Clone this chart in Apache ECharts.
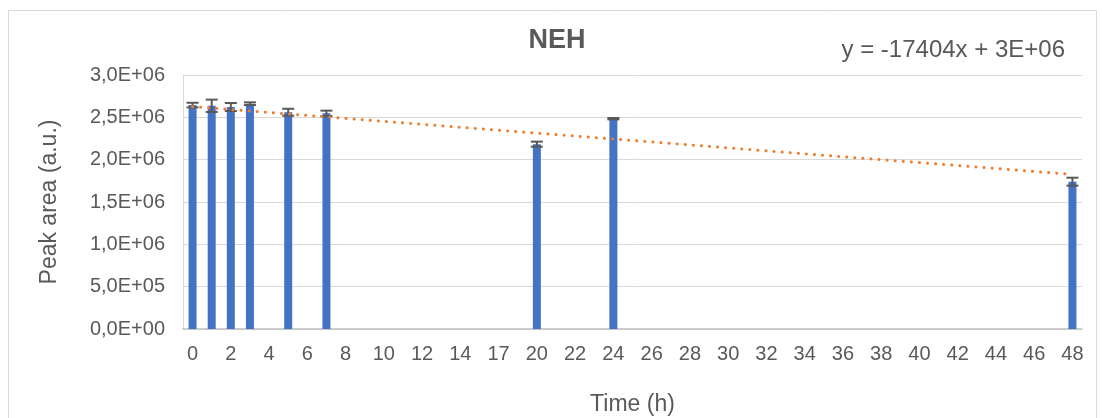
<!DOCTYPE html>
<html>
<head>
<meta charset="utf-8">
<script src="https://cdn.jsdelivr.net/npm/echarts@6/dist/echarts.min.js"></script>
<style>
  html, body { margin: 0; padding: 0; background: #fff; }
  #chart { width: 1102px; height: 418px; }
</style>
</head>
<body>
<div id="chart"></div>
<script>
// Category axis of sampling times (h)
const categories = ['0','1','2','3','4','5','6','7','8','9','10','11','12','13','14','16','17','19',
  '20','21','22','23','24','25','26','27','28','29','30','31','32','33','34','35','36','37','38','39',
  '40','41','42','43','44','45','46','47','48'];

// Measured times, mean peak areas and standard deviations
const sampleTimes = ['0','1','2','3','5','7','20','24','48'];
const peakAreas   = [2645000, 2636000, 2622000, 2661000, 2560000, 2547000, 2183000, 2484000, 1740000];
const peakErrors  = [27000, 73000, 47000, 16000, 41000, 32000, 30000, 8000, 47000];

// Linear trendline (x = 1-based category position)
const trendSlope = -17404;
const trendIntercept = 2644000;
const trendLabel = 'y = -17404x + 3E+06';

const yTickLabels = ['0,0E+00','5,0E+05','1,0E+06','1,5E+06','2,0E+06','2,5E+06','3,0E+06'];

const barData = categories.map(c => {
  const i = sampleTimes.indexOf(c);
  return i >= 0 ? peakAreas[i] : '-';
});
const errData = sampleTimes.map((t, i) => {
  const idx = categories.indexOf(t);
  return [idx, peakAreas[i] - peakErrors[i], peakAreas[i] + peakErrors[i]];
});
const firstIdx = categories.indexOf(sampleTimes[0]);
const lastIdx = categories.indexOf(sampleTimes[sampleTimes.length - 1]);
const trendData = [firstIdx, lastIdx].map(i => [i, trendSlope * (i + 1) + trendIntercept]);

const textColor = '#595959';
const font = 'Liberation Sans, Arial, sans-serif';

const chart = echarts.init(document.getElementById('chart'));
chart.setOption({
  animation: false,
  textStyle: { fontFamily: font },
  title: {
    text: 'NEH',
    left: 552,
    top: 22,
    textAlign: 'center',
    textStyle: { fontSize: 27, fontWeight: 'bold', color: textColor, fontFamily: font }
  },
  graphic: [
    {
      type: 'rect',
      shape: { x: 8.5, y: 10.5, width: 1088, height: 420 },
      style: { fill: 'none', stroke: '#D9D9D9', lineWidth: 1 },
      silent: true
    },
    {
      type: 'text',
      x: 1065, y: 50,
      style: {
        text: trendLabel, fontSize: 24, fontFamily: font, fill: textColor,
        align: 'right', verticalAlign: 'middle'
      }
    }
  ],
  grid: { left: 183, right: 20, top: 75, bottom: 89, containLabel: false, outerBoundsMode: 'none' },
  xAxis: {
    type: 'category',
    data: categories,
    name: 'Time (h)',
    nameLocation: 'middle',
    nameGap: 64,
    nameTextStyle: { fontSize: 23, color: textColor },
    axisLine: { lineStyle: { color: '#BFBFBF', width: 1.5 } },
    axisTick: { show: false },
    axisLabel: { interval: 1, fontSize: 20, color: textColor, margin: 15 },
    splitLine: { show: false }
  },
  yAxis: {
    type: 'value',
    min: 0, max: 3000000, interval: 500000,
    name: 'Peak area (a.u.)',
    nameLocation: 'middle',
    nameGap: 122,
    nameRotate: 90,
    nameTextStyle: { fontSize: 23, color: textColor },
    axisLine: { show: true, lineStyle: { color: '#D9D9D9', width: 1 } },
    axisTick: { show: false },
    axisLabel: {
      fontSize: 20, color: textColor, margin: 18,
      formatter: v => yTickLabels[Math.round(v / 500000)]
    },
    splitLine: { lineStyle: { color: '#D9D9D9', width: 1 } }
  },
  series: [
    {
      type: 'bar',
      data: barData,
      barWidth: 8,
      itemStyle: { color: '#4472C4' },
      z: 2
    },
    {
      type: 'custom',
      data: errData,
      z: 4,
      renderItem: (params, api) => {
        const x = api.value(0);
        const lo = api.coord([x, api.value(1)]);
        const hi = api.coord([x, api.value(2)]);
        const hw = 6;
        const style = { stroke: '#595959', lineWidth: 2 };
        return {
          type: 'group',
          children: [
            { type: 'line', shape: { x1: lo[0], y1: lo[1], x2: hi[0], y2: hi[1] }, style },
            { type: 'line', shape: { x1: lo[0] - hw, y1: lo[1], x2: lo[0] + hw, y2: lo[1] }, style },
            { type: 'line', shape: { x1: hi[0] - hw, y1: hi[1], x2: hi[0] + hw, y2: hi[1] }, style }
          ]
        };
      }
    },
    {
      type: 'line',
      data: trendData,
      symbol: 'none',
      z: 5,
      lineStyle: { color: '#ED7D31', width: 3, type: [0.1, 8], cap: 'round' }
    }
  ]
});
</script>
</body>
</html>
